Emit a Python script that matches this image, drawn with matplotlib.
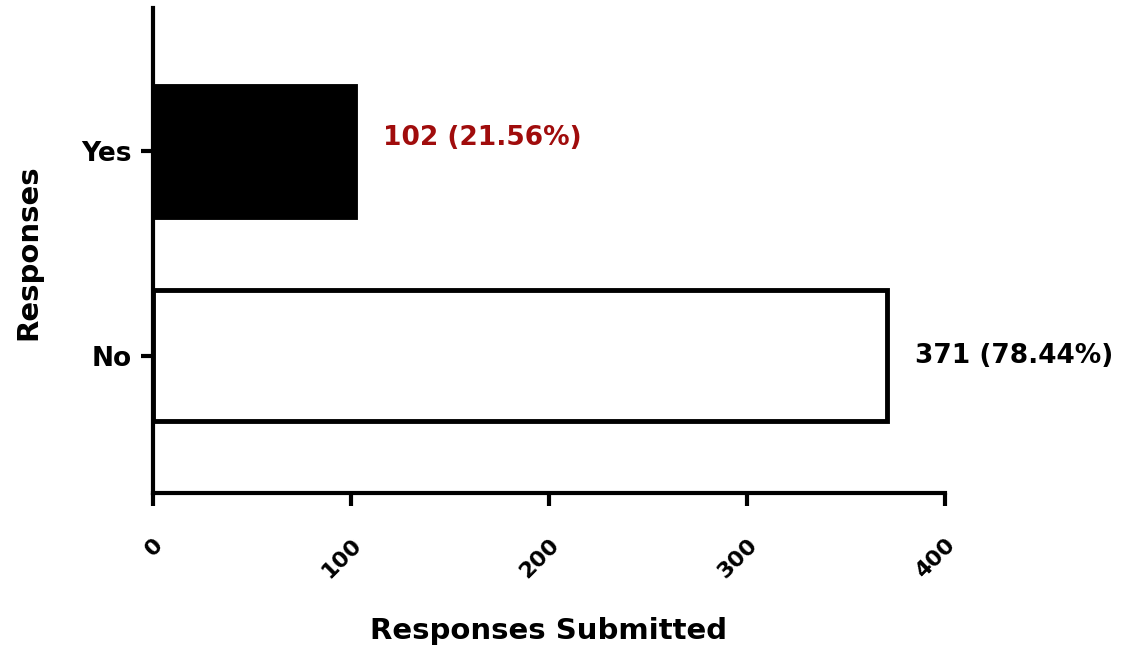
import matplotlib
matplotlib.use('Agg')
from matplotlib import pyplot as plt
import numpy as np

plt.rcParams['font.family'] = ['DejaVu Sans']

## DATI
categorie = ['No', 'Yes']
risposte = [371, 102]
etichette = ['371 (78.44%)', '102 (21.56%)']
colori_barre = ['white', 'black']
colori_testo = ['black', '#a00c0c']
x_ticks = [0, 100, 200, 300, 400]

fig = plt.figure(figsize=(11.46, 6.54), dpi=100)
ax = fig.add_axes([0.1335, 0.2462, 0.691, 0.7416])

y = np.arange(len(categorie))
ax.barh(y, risposte, height=0.64, color=colori_barre, edgecolor='black', linewidth=3.5)

# etichette valori accanto alle barre
ax.text(116, 1.065, etichette[1], color=colori_testo[1], fontsize=19, fontweight='bold',
        va='center', ha='left')
ax.text(385, 0.0, etichette[0], color=colori_testo[0], fontsize=19, fontweight='bold',
        va='center', ha='left')

ax.set_xlim(0, 400)
ax.set_ylim(-0.67, 1.7)
ax.set_yticks(y)
ax.set_yticklabels(categorie, fontsize=19, fontweight='bold')
ax.set_xticks(x_ticks)
ax.set_xticklabels([str(t) for t in x_ticks], fontsize=16, fontweight='bold',
                   rotation=45, ha='right', va='top', rotation_mode='anchor')

for s in ['top', 'right']:
    ax.spines[s].set_visible(False)
for s in ['left', 'bottom']:
    ax.spines[s].set_linewidth(3)
ax.tick_params(axis='both', width=3, length=9)
ax.tick_params(axis='x', pad=21)
ax.tick_params(axis='y', pad=6)

ax.set_xlabel('Responses Submitted', fontsize=21, fontweight='bold')
ax.set_ylabel('Responses', fontsize=21, fontweight='bold')
ax.xaxis.set_label_coords(0.5, -0.255)
ax.yaxis.set_label_coords(-0.14, 0.497)

plt.savefig('out.png', dpi=100)
